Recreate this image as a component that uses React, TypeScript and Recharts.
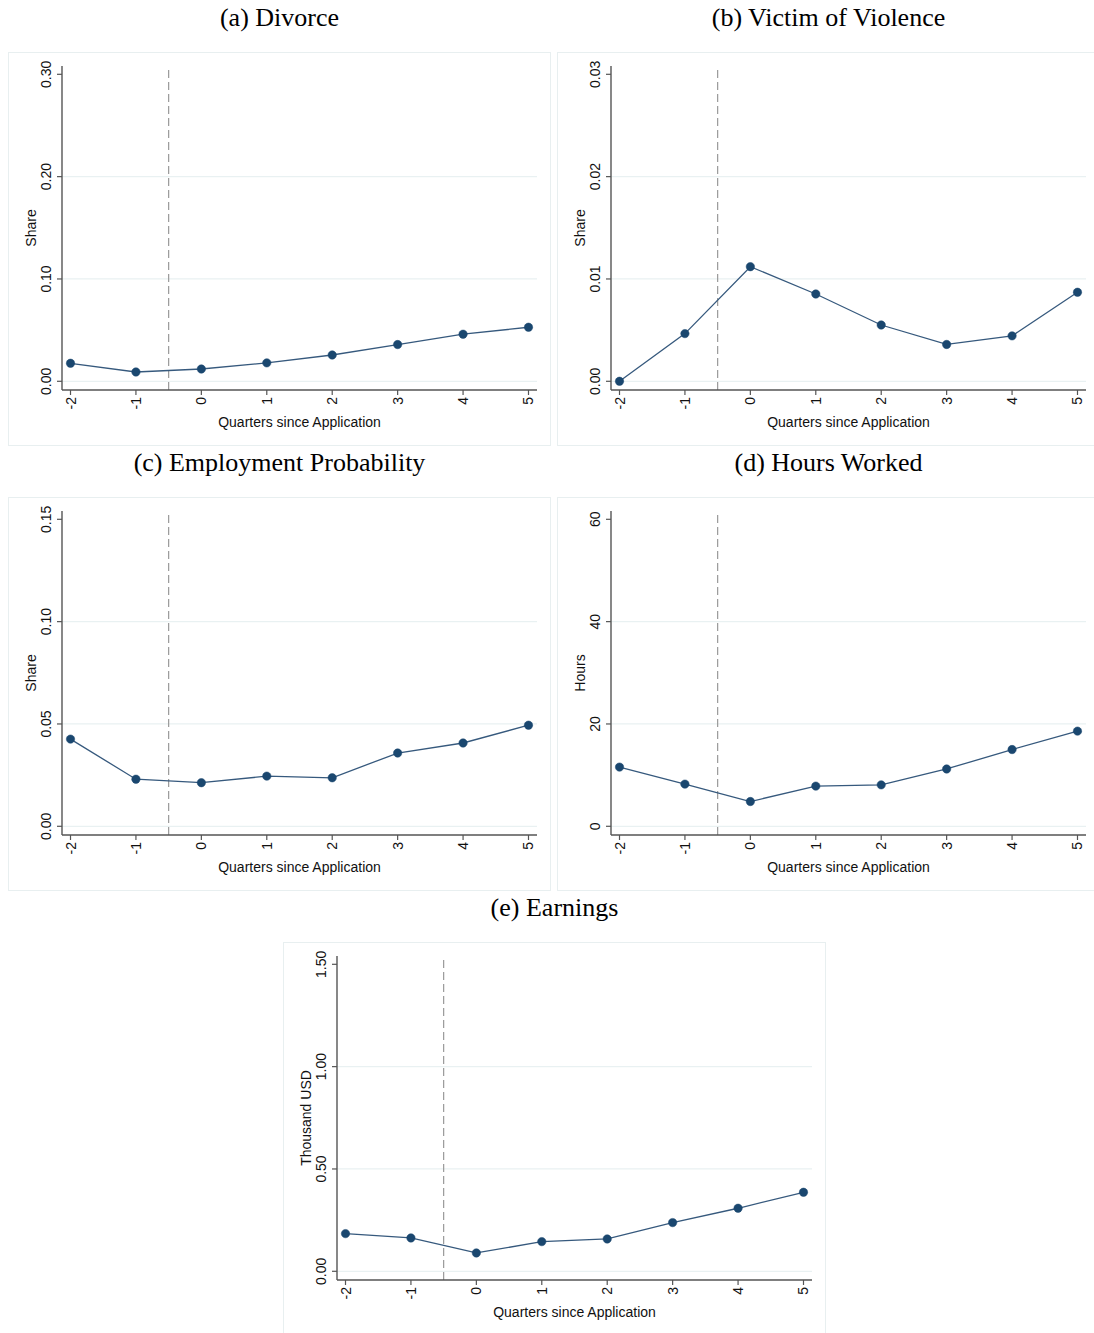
import React from "react";
import { LineChart, Line, XAxis, YAxis, ReferenceLine, Label } from "recharts";

const quarters = [-2, -1, 0, 1, 2, 3, 4, 5];

const divorce = [0.0176, 0.0091, 0.012, 0.018, 0.0257, 0.0359, 0.046, 0.0528];
const violence = [0.0, 0.00466, 0.0112, 0.00853, 0.0055, 0.0036, 0.00444, 0.0087];
const employment = [0.0426, 0.023, 0.0213, 0.0245, 0.0237, 0.0358, 0.0407, 0.0494];
const hours = [11.57, 8.24, 4.84, 7.85, 8.1, 11.2, 15.0, 18.6];
const earnings = [0.184, 0.163, 0.0896, 0.145, 0.158, 0.238, 0.308, 0.386];

const divorceTicks = [0, 0.1, 0.2, 0.3];
const violenceTicks = [0, 0.01, 0.02, 0.03];
const employmentTicks = [0, 0.05, 0.1, 0.15];
const hoursTicks = [0, 20, 40, 60];
const earningsTicks = [0, 0.5, 1.0, 1.5];

const divorceTickLabels = ["0.00", "0.10", "0.20", "0.30"];
const violenceTickLabels = ["0.00", "0.01", "0.02", "0.03"];
const employmentTickLabels = ["0.00", "0.05", "0.10", "0.15"];
const hoursTickLabels = ["0", "20", "40", "60"];
const earningsTickLabels = ["0.00", "0.50", "1.00", "1.50"];

const panelTitles = ["(a) Divorce", "(b) Victim of Violence", "(c) Employment Probability", "(d) Hours Worked", "(e) Earnings"];
const yTitles = ["Share", "Share", "Share", "Hours", "Thousand USD"];
const xTitle = "Quarters since Application";

const SANS = "'Liberation Sans', Arial, Helvetica, sans-serif";
const SERIF = "'Liberation Serif', 'Times New Roman', Times, serif";
const W = 543;
const H = 394;

type PanelProps = {
  left: number;
  top: number;
  title: string;
  yTitle: string;
  values: number[];
  ticks: number[];
  tickLabels: string[];
};

const XTick = (props: any) => {
  const { x, y, payload } = props;
  return (
    <text
      x={x}
      y={y}
      transform={`rotate(-90, ${x}, ${y})`}
      textAnchor="end"
      dominantBaseline="central"
      fontSize={14}
      fontFamily={SANS}
      fill="#111"
    >
      {payload.value}
    </text>
  );
};

const makeYTick = (ticks: number[], labels: string[]) => (props: any) => {
  const { x, y, payload } = props;
  const idx = ticks.findIndex((t) => Math.abs(t - payload.value) < 1e-9);
  const label = idx >= 0 ? labels[idx] : String(payload.value);
  return (
    <text
      x={x}
      y={y}
      transform={`rotate(-90, ${x}, ${y})`}
      textAnchor="middle"
      dominantBaseline="central"
      fontSize={14}
      fontFamily={SANS}
      fill="#111"
    >
      {label}
    </text>
  );
};

const Panel = ({ left, top, title, yTitle, values, ticks, tickLabels }: PanelProps) => {
  const data = quarters.map((q, i) => ({ q, v: values[i] }));
  const max = ticks[ticks.length - 1];
  const domain: [number, number] = [-max * 0.02837, max * 1.02706];
  const YTick = makeYTick(ticks, tickLabels);
  const gridValues = ticks.slice(0, ticks.length - 1);
  return (
    <>
      <div
        style={{
          position: "absolute",
          left,
          top: top - 47,
          width: W,
          textAlign: "center",
          fontFamily: SERIF,
          fontSize: 26,
          lineHeight: "26px",
          color: "#000",
          whiteSpace: "nowrap",
        }}
      >
        {title}
      </div>
      <div style={{ position: "absolute", left, top, width: W, height: H }}>
        <div
          style={{
            position: "absolute",
            left: 0,
            top: 0,
            width: W,
            height: H,
            boxSizing: "border-box",
            border: "1px solid #e8eff0",
            pointerEvents: "none",
          }}
        />
        <LineChart width={W} height={H} data={data} margin={{ top: 14, right: 14, bottom: 0, left: 0 }}>
          <XAxis
            dataKey="q"
            type="number"
            domain={[-2.13, 5.13]}
            ticks={quarters}
            allowDataOverflow
            height={56}
            tickSize={5}
            tickMargin={2}
            tick={<XTick />}
            axisLine={{ stroke: "#555", strokeWidth: 1.4 }}
            tickLine={{ stroke: "#555", strokeWidth: 1.2 }}
            interval={0}
          >
            <Label
              content={(p: any) => {
                const vb = p.viewBox || {};
                return (
                  <text
                    x={vb.x + vb.width / 2}
                    y={vb.y + 32}
                    textAnchor="middle"
                    dominantBaseline="central"
                    fontSize={14}
                    fontFamily={SANS}
                    fill="#111"
                  >
                    {xTitle}
                  </text>
                );
              }}
            />
          </XAxis>
          <YAxis
            type="number"
            domain={domain}
            ticks={ticks}
            allowDataOverflow
            width={54}
            tickSize={5}
            tickMargin={11}
            tick={<YTick />}
            axisLine={{ stroke: "#555", strokeWidth: 1.4 }}
            tickLine={{ stroke: "#555", strokeWidth: 1.2 }}
            interval={0}
          >
            <Label
              content={(p: any) => {
                const vb = p.viewBox || {};
                const cx = vb.x + 23;
                const cy = vb.y + vb.height / 2;
                return (
                  <text
                    x={cx}
                    y={cy}
                    transform={`rotate(-90, ${cx}, ${cy})`}
                    textAnchor="middle"
                    dominantBaseline="central"
                    fontSize={14}
                    fontFamily={SANS}
                    fill="#111"
                  >
                    {yTitle}
                  </text>
                );
              }}
            />
          </YAxis>
          {gridValues.map((g) => (
            <ReferenceLine key={`g${g}`} y={g} stroke="#e9f1f2" strokeWidth={1.2} />
          ))}
          <ReferenceLine x={-0.5} stroke="#9a9a9a" strokeWidth={1.2} strokeDasharray="8 4" />
          <Line
            type="linear"
            dataKey="v"
            stroke="#36597d"
            strokeWidth={1.3}
            dot={{ r: 4.2, fill: "#1a476f", stroke: "#1a476f", strokeWidth: 0.5 }}
            activeDot={false}
            isAnimationActive={false}
          />
        </LineChart>
      </div>
    </>
  );
}

export default function App() {
  return (
    <div
      style={{
        position: "absolute",
        left: 0,
        top: 0,
        width: 1094,
        height: 1333,
        overflow: "hidden",
        background: "#fff",
      }}
    >
      <Panel left={8} top={52} title={panelTitles[0]} yTitle={yTitles[0]} values={divorce} ticks={divorceTicks} tickLabels={divorceTickLabels} />
      <Panel left={557} top={52} title={panelTitles[1]} yTitle={yTitles[1]} values={violence} ticks={violenceTicks} tickLabels={violenceTickLabels} />
      <Panel left={8} top={497} title={panelTitles[2]} yTitle={yTitles[2]} values={employment} ticks={employmentTicks} tickLabels={employmentTickLabels} />
      <Panel left={557} top={497} title={panelTitles[3]} yTitle={yTitles[3]} values={hours} ticks={hoursTicks} tickLabels={hoursTickLabels} />
      <Panel left={283} top={942} title={panelTitles[4]} yTitle={yTitles[4]} values={earnings} ticks={earningsTicks} tickLabels={earningsTickLabels} />
    </div>
  );
}
